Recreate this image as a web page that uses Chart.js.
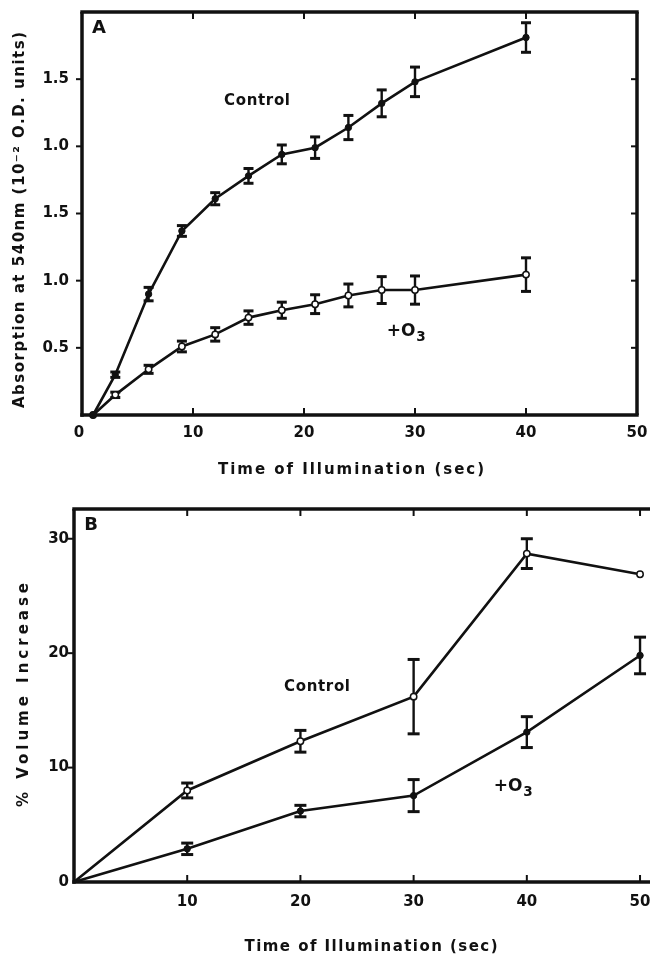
<!DOCTYPE html>
<html>
<head>
<meta charset="utf-8">
<script src="https://cdn.jsdelivr.net/npm/chart.js@4.4.1/dist/chart.umd.min.js"></script>
<style>
  html, body { margin: 0; background: #fff; overflow: hidden; }
  .panel { position: relative; }
</style>
</head>
<body>
<div class="panel" style="width:650px;height:480px"><canvas id="chartA"></canvas></div>
<div class="panel" style="width:660px;height:475px"><canvas id="chartB"></canvas></div>
<script>
// Panel A: absorption at 540 nm vs time of illumination
const timesA = [1, 3, 6, 9, 12, 15, 18, 21, 24, 27, 30, 40];
const controlA = [0, 0.30, 0.90, 1.37, 1.61, 1.78, 1.94, 1.99, 2.14, 2.32, 2.48, 2.81];
const controlErrA = [0, 0.02, 0.05, 0.04, 0.045, 0.055, 0.07, 0.08, 0.09, 0.10, 0.11, 0.11];
const ozoneA = [0, 0.15, 0.34, 0.51, 0.60, 0.725, 0.78, 0.825, 0.89, 0.93, 0.93, 1.045];
const ozoneErrA = [0, 0.02, 0.03, 0.04, 0.05, 0.05, 0.06, 0.07, 0.085, 0.10, 0.105, 0.125];
const xTicksA = [0, 10, 20, 30, 40, 50];
const yTicksA = [0.5, 1.0, 1.5, 2.0, 2.5];
const yTickLabelsA = ['0.5', '1.0', '1.5', '1.0', '1.5']; // as printed in the figure

// Panel B: % volume increase vs time of illumination
const timesB = [0, 10, 20, 30, 40, 50];
const controlB = [0, 8.0, 12.3, 16.2, 28.7, 26.9];
const controlErrB = [0, 0.65, 0.95, 3.25, 1.3, 0];
const ozoneB = [0, 2.9, 6.2, 7.55, 13.1, 19.8];
const ozoneErrB = [0, 0.5, 0.5, 1.4, 1.35, 1.6];
const xTicksB = [10, 20, 30, 40, 50];
const yTicksB = [0, 10, 20, 30];

const INK = '#111';
const FONT = '"DejaVu Sans", "Liberation Sans", sans-serif';

function pairs(xs, ys) {
    return xs.map((x, i) => ({ x: x, y: ys[i] }));
}

// draw text stretched to a target width with letter spacing
function fitText(ctx, text, x, y, width, size, rotate) {
    ctx.save();
    ctx.translate(x, y);
    if (rotate) ctx.rotate(-Math.PI / 2);
    ctx.font = `bold ${size}px ${FONT}`;
    ctx.fillStyle = INK;
    ctx.textBaseline = 'middle';
    ctx.textAlign = 'left';
    ctx.letterSpacing = '0px';
    const w = ctx.measureText(text).width;
    const ls = Math.max(0, (width - w) / (text.length - 1));
    ctx.letterSpacing = ls + 'px';
    ctx.fillText(text, -width / 2, 0);
    ctx.restore();
}

function ozoneLabel(ctx, x, y, size) {
    ctx.save();
    ctx.font = `bold ${size}px ${FONT}`;
    ctx.fillStyle = INK;
    ctx.textBaseline = 'middle';
    ctx.textAlign = 'left';
    const w1 = ctx.measureText('+O').width;
    ctx.fillText('+O', x - w1 / 2 - 4, y);
    ctx.font = `bold ${size * 0.8}px ${FONT}`;
    ctx.fillText('3', x + w1 / 2 - 3, y + size * 0.35);
    ctx.restore();
}

function line(ctx, x1, y1, x2, y2) {
    ctx.beginPath();
    ctx.moveTo(x1, y1);
    ctx.lineTo(x2, y2);
    ctx.stroke();
}

function panelPlugin(p) {
    return {
        id: 'panel' + p.letter,
        beforeDatasetsDraw(chart) {
            const ctx = chart.ctx;
            const a = chart.chartArea;
            const xs = chart.scales.x, ys = chart.scales.y;
            ctx.save();
            ctx.strokeStyle = INK;
            ctx.lineCap = 'butt';

            // frame
            ctx.lineWidth = 3.5;
            line(ctx, a.left, a.top, a.left, a.bottom + 1.7);
            line(ctx, a.left - 1.7, a.bottom, a.right + (p.rightBorder ? 1.7 : 0), a.bottom);
            line(ctx, a.left - 1.7, a.top, a.right + (p.rightBorder ? 1.7 : 0), a.top);
            if (p.rightBorder) line(ctx, a.right, a.top, a.right, a.bottom);

            // tick marks
            ctx.lineWidth = 2;
            p.xTicks.forEach(v => {
                if (v === 0) return;
                const px = xs.getPixelForValue(v);
                line(ctx, px, a.bottom, px, a.bottom - 7);
                line(ctx, px, a.top, px, a.top + 7);
            });
            p.yTicks.forEach(v => {
                if (v === 0) return;
                const py = ys.getPixelForValue(v);
                line(ctx, a.left, py, a.left - 6, py);
                if (p.rightBorder) line(ctx, a.right, py, a.right - 6, py);
            });

            // tick labels
            ctx.fillStyle = INK;
            ctx.font = `bold 15px ${FONT}`;
            ctx.textBaseline = 'middle';
            ctx.textAlign = 'center';
            p.xTicks.forEach(v => {
                ctx.fillText(String(v), xs.getPixelForValue(v) - (v === 0 ? 3 : 0), p.xLabelY);
            });
            ctx.textAlign = 'right';
            p.yTicks.forEach((v, i) => {
                ctx.fillText(p.yLabels[i], p.yLabelRight, ys.getPixelForValue(v));
            });

            // error bars
            chart.data.datasets.forEach(ds => {
                ds.err.forEach((e, i) => {
                    if (!e) return;
                    const px = xs.getPixelForValue(ds.data[i].x);
                    const top = ys.getPixelForValue(ds.data[i].y + e);
                    const bot = ys.getPixelForValue(ds.data[i].y - e);
                    ctx.lineWidth = 2.4;
                    line(ctx, px, top, px, bot);
                    ctx.lineWidth = 3;
                    line(ctx, px - p.cap, top, px + p.cap, top);
                    line(ctx, px - p.cap, bot, px + p.cap, bot);
                });
            });
            ctx.restore();

            // titles and annotations
            fitText(ctx, p.xTitle.text, p.xTitle.x, p.xTitle.y, p.xTitle.w, 15, false);
            fitText(ctx, p.yTitle.text, p.yTitle.x, p.yTitle.y, p.yTitle.w, 15, true);
            ctx.save();
            ctx.font = `bold 18px ${FONT}`;
            ctx.fillStyle = INK;
            ctx.textAlign = 'center';
            ctx.textBaseline = 'middle';
            ctx.fillText(p.letter, p.letterPos[0], p.letterPos[1]);
            ctx.restore();
            fitText(ctx, 'Control', p.controlPos[0], p.controlPos[1], 66, 15, false);
            ozoneLabel(ctx, p.ozonePos[0], p.ozonePos[1], 17);
        }
    };
}

function dataset(label, xs, ys, err, filled, hideFirst) {
    return {
        label: label,
        data: pairs(xs, ys),
        err: err,
        borderColor: INK,
        borderWidth: 2.6,
        tension: 0,
        pointRadius: c => (hideFirst && c.dataIndex === 0) ? 0 : 3.2,
        pointBorderWidth: filled ? 1 : 1.5,
        pointBackgroundColor: filled ? INK : '#fff',
        pointBorderColor: INK,
        clip: false
    };
}

function baseOptions(padding, xMax, yMax) {
    return {
        responsive: true,
        maintainAspectRatio: false,
        animation: false,
        layout: { padding: padding },
        plugins: { legend: { display: false }, tooltip: { enabled: false } },
        scales: {
            x: { type: 'linear', min: 0, max: xMax, display: false },
            y: { type: 'linear', min: 0, max: yMax, display: false }
        }
    };
}

new Chart(document.getElementById('chartA'), {
    type: 'line',
    data: {
        datasets: [
            dataset('Control', timesA, controlA, controlErrA, true, false),
            dataset('+O3', timesA, ozoneA, ozoneErrA, false, false)
        ]
    },
    options: baseOptions({ left: 82, right: 13, top: 12, bottom: 65 }, 50, 3.0),
    plugins: [panelPlugin({
        letter: 'A',
        rightBorder: true,
        xTicks: xTicksA,
        yTicks: yTicksA,
        yLabels: yTickLabelsA,
        xLabelY: 433,
        yLabelRight: 69,
        cap: 5,
        xTitle: { text: 'Time of Illumination (sec)', x: 351, y: 470, w: 266 },
        yTitle: { text: 'Absorption at 540nm (10⁻² O.D. units)', x: 20, y: 220, w: 376 },
        letterPos: [99, 28],
        controlPos: [257, 101],
        ozonePos: [405, 332]
    })]
});

new Chart(document.getElementById('chartB'), {
    type: 'line',
    data: {
        datasets: [
            dataset('Control', timesB, controlB, controlErrB, false, true),
            dataset('+O3', timesB, ozoneB, ozoneErrB, true, true)
        ]
    },
    options: baseOptions({ left: 74, right: 10, top: 29, bottom: 73 }, 50.88, 32.6),
    plugins: [panelPlugin({
        letter: 'B',
        rightBorder: false,
        xTicks: xTicksB,
        yTicks: yTicksB,
        yLabels: yTicksB.map(String),
        xLabelY: 422,
        yLabelRight: 69,
        cap: 6,
        xTitle: { text: 'Time of Illumination (sec)', x: 371, y: 467, w: 253 },
        yTitle: { text: '% Volume Increase', x: 24, y: 215, w: 224 },
        letterPos: [91, 45],
        controlPos: [317, 207],
        ozonePos: [512, 307]
    })]
});
</script>
</body>
</html>
